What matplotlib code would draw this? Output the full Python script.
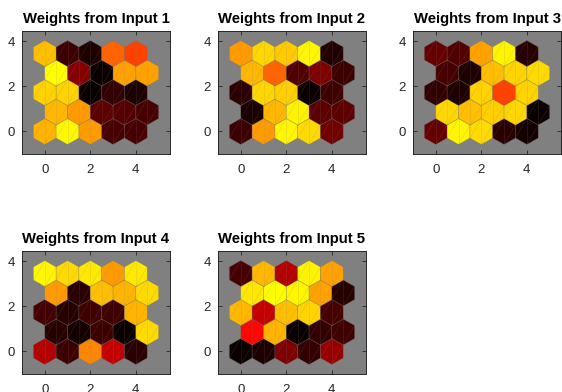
import numpy as np
import matplotlib.pyplot as plt
from matplotlib.patches import RegularPolygon

plt.rcParams['font.family'] = ['Liberation Sans', 'DejaVu Sans']

titles = ['Weights from Input 1', 'Weights from Input 2', 'Weights from Input 3',
          'Weights from Input 4', 'Weights from Input 5']

# weight levels per neuron, rows from bottom (row 0) to top (row 4), 0 = black, 1 = yellow
w1 = [[0.76, 0.98, 0.70, 0.15, 0.15],
      [0.78, 0.70, 0.20, 0.18, 0.15],
      [0.85, 0.85, 0.00, 0.10, 0.05],
      [1.00, 0.30, 0.00, 0.72, 0.72],
      [0.80, 0.12, 0.05, 0.65, 0.57]]
w2 = [[0.12, 0.70, 0.97, 0.88, 0.25],
      [0.04, 0.78, 0.96, 0.20, 0.20],
      [0.08, 0.87, 0.84, 0.00, 0.13],
      [0.78, 0.65, 0.17, 0.28, 0.12],
      [0.70, 0.87, 0.83, 0.97, 0.06]]
w3 = [[0.22, 0.97, 0.88, 0.08, 0.03],
      [0.87, 0.80, 0.84, 0.87, 0.00],
      [0.10, 0.05, 0.85, 0.57, 0.85],
      [0.15, 0.05, 0.80, 0.86, 0.88],
      [0.22, 0.17, 0.72, 0.96, 0.07]]
w4 = [[0.37, 0.12, 0.68, 0.40, 0.08],
      [0.07, 0.03, 0.12, 0.00, 0.88],
      [0.14, 0.07, 0.13, 0.13, 0.77],
      [0.70, 0.08, 0.80, 0.77, 0.88],
      [0.97, 0.88, 0.93, 0.70, 0.93]]
w5 = [[0.00, 0.05, 0.28, 0.10, 0.33],
      [0.50, 0.77, 0.00, 0.10, 0.13],
      [0.78, 0.40, 0.80, 0.86, 0.15],
      [0.92, 1.00, 0.97, 0.72, 0.07],
      [0.15, 0.78, 0.37, 0.96, 0.72]]
weights = [w1, w2, w3, w4, w5]

# colour scale: reading level -> position along the black-red-yellow ramp
lvl_in = [0, 0.3, 0.5, 0.57, 0.65, 0.7, 0.8, 0.85, 1.0]
lvl_out = [0, 0.25, 0.5, 0.62, 0.69, 0.8, 0.873, 0.908, 1.0]

W, H = 562, 392
# axes boxes in pixels: left, top
boxes = [(22, 31), (218, 31), (413, 31), (22, 251), (218, 251)]
aw, ah = 148, 123

cmap = plt.get_cmap('hot')

fig = plt.figure(figsize=(W / 100, H / 100), dpi=100)
for k in range(5):
    left, top = boxes[k]
    ax = fig.add_axes([left / W, (H - top - ah) / H, aw / W, ah / H])
    ax.set_facecolor((0.5, 0.5, 0.5))
    vals = np.interp(np.array(weights[k]), lvl_in, lvl_out)
    for r in range(5):
        for c in range(5):
            x = c + 0.5 * (r % 2)
            y = r * np.sqrt(3) / 2
            col = cmap(vals[r, c] * 0.746)
            hexp = RegularPolygon((x, y), 6, radius=1 / np.sqrt(3), orientation=0,
                                  facecolor=col, edgecolor=(0.45, 0.45, 0.45, 0.35),
                                  linewidth=0.5)
            ax.add_patch(hexp)
            # faint inner triangulation lines
            ang = np.pi / 2 + np.arange(6) * np.pi / 3
            vx = x + np.cos(ang) / np.sqrt(3)
            vy = y + np.sin(ang) / np.sqrt(3)
            ax.plot([vx[0], vx[2]], [vy[0], vy[2]], color=(0.5, 0.5, 0.5), alpha=0.25, lw=0.4)
            ax.plot([vx[0], vx[3]], [vy[0], vy[3]], color=(0.5, 0.5, 0.5), alpha=0.25, lw=0.4)
            ax.plot([vx[3], vx[5]], [vy[3], vy[5]], color=(0.5, 0.5, 0.5), alpha=0.25, lw=0.4)
    ax.set_xlim(-1, 5.5)
    ax.set_ylim(-1, 3.464 + 1)
    ax.set_xticks([0, 2, 4])
    ax.set_yticks([0, 2, 4])
    ax.tick_params(axis='x', pad=7)
    ax.tick_params(direction='in', top=True, right=True, length=3, width=0.6,
                   labelsize=9.5, colors=(0.15, 0.15, 0.15))
    ax.tick_params(axis='y', pad=5)
    for s in ax.spines.values():
        s.set_color((0.15, 0.15, 0.15))
        s.set_linewidth(0.7)
    ax.set_title(titles[k], fontsize=10.7, fontweight='bold', pad=6)

fig.savefig('out.png', dpi=100)
